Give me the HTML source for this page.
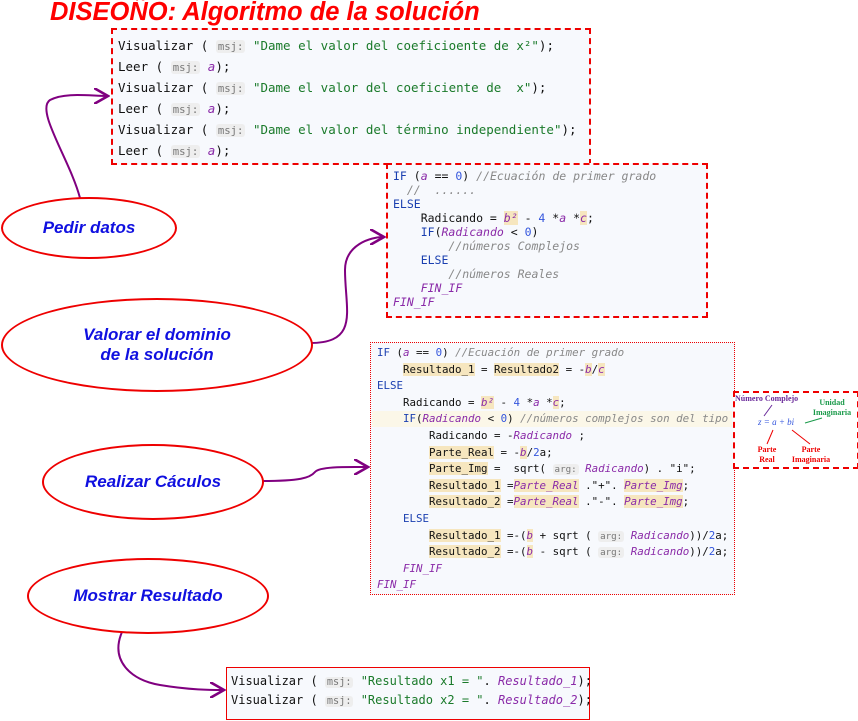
<!DOCTYPE html>
<html><head><meta charset="utf-8"><style>
body{margin:0;width:858px;height:721px;background:#fff;position:relative;overflow:hidden;font-family:"Liberation Sans",sans-serif}
.box{position:absolute;background:#f7f9fd;border:2px dashed #e00}
.code{position:absolute;font-family:"DejaVu Sans Mono","Liberation Mono",monospace;white-space:pre;color:#111}
.kw{color:#1a3fb0}.cm{color:#888;font-style:italic}.st{color:#1a7a2a}.v{color:#8a2aa8;font-style:italic}.n{color:#3355dd}
.hl{background:#f6e6bf}.tag{background:#eee;color:#777;font-size:0.85em;border-radius:3px;padding:0 2px;line-height:1}
.fi{color:#8a2aa8;font-style:italic}
.ell{position:absolute;border:2px solid #e00;border-radius:50%;background:#fff;display:flex;align-items:center;justify-content:center;text-align:center;color:#1010e0;font-weight:bold;font-style:italic;font-size:17px}
</style></head><body>
<div style="position:absolute;left:50px;top:-2px;color:#f00;font-weight:bold;font-style:italic;font-size:25.5px">DISEOÑO: Algoritmo de la solución</div>

<div class="box" style="left:111px;top:28px;width:476px;height:133px"></div>
<div class="code" style="left:118px;top:35px;font-size:12.5px;line-height:21px">Visualizar ( <span class="tag">msj:</span> <span class="st">"Dame el valor del coeficioente de x²"</span>);
Leer ( <span class="tag">msj:</span> <span class="v">a</span>);
Visualizar ( <span class="tag">msj:</span> <span class="st">"Dame el valor del coeficiente de  x"</span>);
Leer ( <span class="tag">msj:</span> <span class="v">a</span>);
Visualizar ( <span class="tag">msj:</span> <span class="st">"Dame el valor del término independiente"</span>);
Leer ( <span class="tag">msj:</span> <span class="v">a</span>);</div>

<div class="box" style="left:386px;top:163px;width:318px;height:151px"></div>
<div class="code" style="left:393px;top:169px;font-size:11.5px;line-height:14px"><span class="kw">IF</span> (<span class="v">a</span> == <span class="n">0</span>) <span class="cm">//Ecuación de primer grado</span>
  <span class="cm">//  ......</span>
<span class="kw">ELSE</span>
    Radicando = <span class="hl v">b²</span> - <span class="n">4</span> *<span class="v">a</span> *<span class="hl v">c</span>;
    <span class="kw">IF</span>(<span class="v">Radicando</span> &lt; <span class="n">0</span>)
        <span class="cm">//números Complejos</span>
    <span class="kw">ELSE</span>
        <span class="cm">//números Reales</span>
    <span class="fi">FIN_IF</span>
<span class="fi">FIN_IF</span></div>

<div class="box" style="left:370px;top:342px;width:363px;height:251px;border:1.5px dotted #e00"></div>
<div style="position:absolute;left:372px;top:411px;width:360px;height:16px;background:#fbf7e8"></div>
<div class="code" style="left:377px;top:345px;font-size:10.8px;line-height:16.6px"><span class="kw">IF</span> (<span class="v">a</span> == <span class="n">0</span>) <span class="cm">//Ecuación de primer grado</span>
    <span class="hl">Resultado_1</span> = <span class="hl">Resultado2</span> = -<span class="hl v">b</span>/<span class="hl v">c</span>
<span class="kw">ELSE</span>
    Radicando = <span class="hl v">b²</span> - <span class="n">4</span> *<span class="v">a</span> *<span class="hl v">c</span>;
    <span class="kw">IF</span>(<span class="v">Radicando</span> &lt; <span class="n">0</span>) <span class="cm">//números complejos son del tipo</span>
        Radicando = -<span class="v">Radicando</span> ;
        <span class="hl">Parte_Real</span> = -<span class="hl v">b</span>/<span class="n">2</span>a;
        <span class="hl">Parte_Img</span> =  sqrt( <span class="tag">arg:</span> <span class="v">Radicando</span>) . "i";
        <span class="hl">Resultado_1</span> =<span class="hl v">Parte_Real</span> ."+". <span class="hl v">Parte_Img</span>;
        <span class="hl">Resultado_2</span> =<span class="hl v">Parte_Real</span> ."-". <span class="hl v">Parte_Img</span>;
    <span class="kw">ELSE</span>
        <span class="hl">Resultado_1</span> =-(<span class="hl v">b</span> + sqrt ( <span class="tag">arg:</span> <span class="v">Radicando</span>))/<span class="n">2</span>a;
        <span class="hl">Resultado_2</span> =-(<span class="hl v">b</span> - sqrt ( <span class="tag">arg:</span> <span class="v">Radicando</span>))/<span class="n">2</span>a;
    <span class="fi">FIN_IF</span>
<span class="fi">FIN_IF</span></div>

<div class="box" style="left:733px;top:391px;width:122px;height:74px;background:#fff"></div>
<div style="position:absolute;left:735px;top:394px;font-family:'Liberation Serif',serif;font-weight:bold;font-size:8px;color:#6a2a9a">Número Complejo</div>
<div style="position:absolute;left:808px;top:398px;width:48px;text-align:center;font-family:'Liberation Serif',serif;font-weight:bold;font-size:8px;color:#1a9a4a;line-height:10px">Unidad<br>Imaginaria</div>
<div style="position:absolute;left:758px;top:417px;font-family:'Liberation Serif',serif;font-style:italic;font-size:9px;color:#3355dd">z = a + bi</div>
<div style="position:absolute;left:752px;top:445px;width:30px;text-align:center;font-family:'Liberation Serif',serif;font-weight:bold;font-size:8px;color:#e00;line-height:10px">Parte<br>Real</div>
<div style="position:absolute;left:786px;top:445px;width:50px;text-align:center;font-family:'Liberation Serif',serif;font-weight:bold;font-size:8px;color:#e00;line-height:10px">Parte<br>Imaginaria</div>

<div class="box" style="left:226px;top:667px;width:362px;height:51px;border:1.5px solid #e00"></div>
<div class="code" style="left:231px;top:672px;font-size:12px;line-height:19px">Visualizar ( <span class="tag">msj:</span> <span class="st">"Resultado x1 = "</span>. <span class="v">Resultado_1</span>);
Visualizar ( <span class="tag">msj:</span> <span class="st">"Resultado x2 = "</span>. <span class="v">Resultado_2</span>);</div>

<svg width="858" height="721" style="position:absolute;left:0;top:0">
<defs><marker id="a" markerWidth="8" markerHeight="8" refX="7" refY="4" orient="auto"><path d="M0,0 L7,4 L0,8" fill="none" stroke="#800080" stroke-width="1.3"/></marker></defs>
<g fill="none" stroke="#800080" stroke-width="2">
<path d="M80,198 C70,160 35,110 50,100 C65,92 90,96 108,96" marker-end="url(#a)"/>
<path d="M310,343 C360,343 345,310 345,270 C345,245 370,237 384,237" marker-end="url(#a)"/>
<path d="M262,481 C300,481 310,478 315,472 C320,466 350,467 368,467" marker-end="url(#a)"/>
<path d="M122,632 C110,660 130,680 160,685 C190,690 210,690 224,690" marker-end="url(#a)"/>
</g>
<g fill="none" stroke-width="1">
<path d="M772,405 L764,416" stroke="#6a2a9a"/>
<path d="M822,418 L805,423" stroke="#1a9a4a"/>
<path d="M767,444 L773,430" stroke="#e00"/>
<path d="M810,444 L792,430" stroke="#e00"/>
</g>
</svg>

<div class="ell" style="left:1px;top:197px;width:172px;height:58px">Pedir datos</div>
<div class="ell" style="left:1px;top:298px;width:308px;height:90px">Valorar el dominio<br>de la solución</div>
<div class="ell" style="left:42px;top:444px;width:218px;height:72px">Realizar Cáculos</div>
<div class="ell" style="left:27px;top:558px;width:238px;height:72px">Mostrar Resultado</div>
</body></html>
